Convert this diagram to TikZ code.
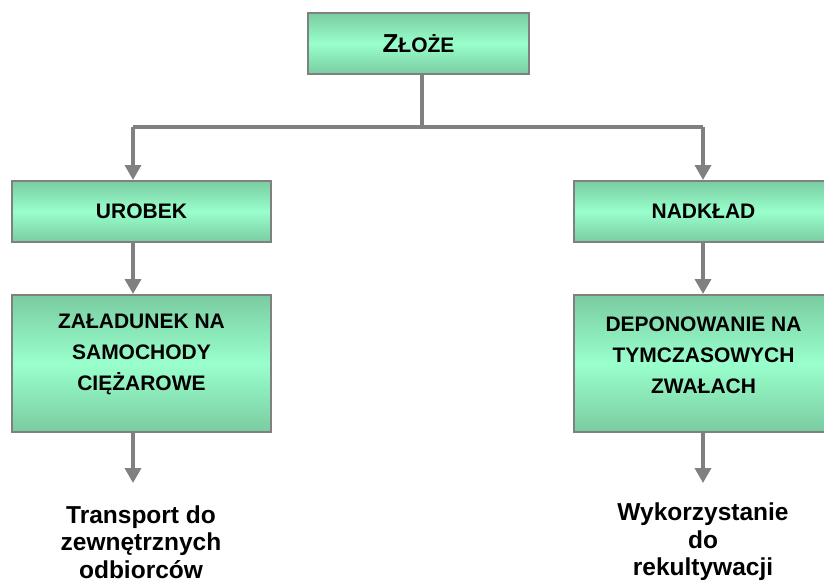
\documentclass[tikz,border=0pt]{standalone}
\usepackage{fontspec}
\setmainfont{Liberation Sans}
\usetikzlibrary{positioning,arrows.meta}
\definecolor{boxedge}{RGB}{122,204,160}
\definecolor{boxmid}{RGB}{153,255,204}
\definecolor{linegray}{RGB}{128,128,128}

\begin{document}
\begin{tikzpicture}[x=1pt, y=-1pt,
  box/.style={draw=linegray, line width=2pt, top color=boxedge, bottom color=boxedge, middle color=boxmid, minimum width=259pt, minimum height=61pt, inner sep=0pt, align=center, font=\fontsize{21}{31}\selectfont\bfseries},
  boxtext/.style={align=center, inner sep=0pt, font=\fontsize{21}{31}\selectfont\bfseries},
  endtext/.style={align=center, inner sep=0pt, font=\fontsize{24.5}{27.5}\selectfont\bfseries},
  conn/.style={draw=linegray, line width=3.5pt},
  arr/.style={conn, -{Triangle[length=15pt, width=16pt]}}
]
\clip (0,0) rectangle (824,583);

\node[box, minimum width=221pt] (zloze) at (418.5,43.5) {{\fontsize{26}{26}\selectfont Z}ŁOŻE};
\node[box] (urobek) at (141.5,211.5) {UROBEK};
\node[box] (nadklad) at (703.5,211.5) {NADKŁAD};
\node[box, minimum height=137pt] (zaladunek) at (141.5,363.5) {};
\node[boxtext] (zaladunek-t) at ([yshift=9pt]zaladunek.center) {ZAŁADUNEK NA\\SAMOCHODY\\CIĘŻAROWE};
\node[box, minimum height=137pt] (deponowanie) at (703.5,363.5) {};
\node[boxtext] (deponowanie-t) at ([yshift=8pt]deponowanie.center) {DEPONOWANIE NA\\TYMCZASOWYCH\\ZWAŁACH};

\coordinate (split) at (422,127);
\coordinate (lt) at (133,127);
\coordinate (rt) at (703,127);
\coordinate (endl) at (133,483);
\coordinate (endr) at (703,483);

\node[endtext] (transport) at (141,542) {Transport do\\zewnętrznych\\odbiorców};
\node[endtext] (rekult) at (703,542) {Wykorzystanie\\do\\rekultywacji};

\draw[conn] (zloze.south -| split) -- (split);
\draw[conn] (lt) -- (rt);
\draw[arr] (lt) -- (lt |- urobek.north);
\draw[arr] (rt) -- (rt |- nadklad.north);
\draw[arr] (urobek.south -| lt) -- (zaladunek.north -| lt);
\draw[arr] (nadklad.south -| rt) -- (deponowanie.north -| rt);
\draw[arr] (zaladunek.south -| lt) -- (endl);
\draw[arr] (deponowanie.south -| rt) -- (endr);
\end{tikzpicture}
\end{document}
